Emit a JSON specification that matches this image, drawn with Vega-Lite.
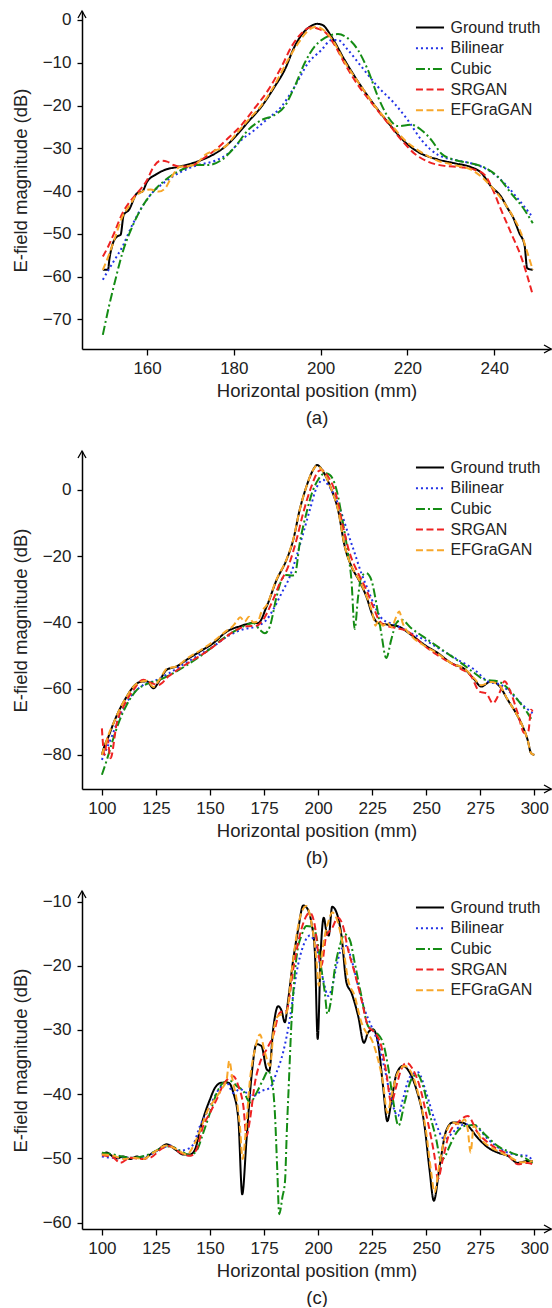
{
"$schema":"https://vega.github.io/schema/vega-lite/v6.json",
"padding":{"left":11,"top":8,"right":0,"bottom":0},
"background":"white",
"config":{
 "view":{"stroke":null},
 "font":"Liberation Sans",
 "axis":{"grid":false,"domainColor":"#000","domainWidth":1.5,"tickColor":"#000","tickWidth":1.3,"labelFontSize":17,"labelColor":"#222","titleFontSize":18.5,"titleFontWeight":"normal","titleColor":"#222","labelFont":"Liberation Sans","titleFont":"Liberation Sans","labelFlush":false,"labelOverlap":false},
 "axisX":{"tickSize":6,"labelPadding":5,"titlePadding":5,"titleLineHeight":27.5},
 "axisY":{"tickSize":5,"labelPadding":6,"titlePadding":12},
 "legend":{"orient":"none","legendX":337.5,"legendY":6,"title":null,"padding":0,"rowPadding":1.7,"labelFontSize":16,"labelFont":"Liberation Sans","labelColor":"#222","labelOffset":10,"symbolType":"M-1.5,0L1.5,0","symbolSize":350,"symbolStrokeWidth":2,"labelLimit":300}
},
"resolve":{"scale":{"x":"independent","y":"independent","color":"independent","strokeDash":"independent"},"legend":{"color":"independent","strokeDash":"independent"}},
"bounds":"flush",
"spacing":102,
"vconcat":[
{"width":469,"height":338,
 "layer":[
 {"data":{"values":[
{"m":"Ground truth","x":149.8,"y":-58.4},{"m":"Ground truth","x":151,"y":-58.4},{"m":"Ground truth","x":151.3,"y":-56},{"m":"Ground truth","x":152,"y":-52.6},{"m":"Ground truth","x":153.1,"y":-50.6},{"m":"Ground truth","x":153.9,"y":-50.2},{"m":"Ground truth","x":154.6,"y":-45.6},{"m":"Ground truth","x":155.8,"y":-44.4},{"m":"Ground truth","x":157.7,"y":-40.5},{"m":"Ground truth","x":158.9,"y":-40.1},{"m":"Ground truth","x":160,"y":-37.8},{"m":"Ground truth","x":161.9,"y":-36.2},{"m":"Ground truth","x":164.2,"y":-35},{"m":"Ground truth","x":167.3,"y":-34.3},{"m":"Ground truth","x":170.3,"y":-33.5},{"m":"Ground truth","x":172.6,"y":-32.7},{"m":"Ground truth","x":175.7,"y":-31.2},{"m":"Ground truth","x":178,"y":-29.6},{"m":"Ground truth","x":180.3,"y":-27.3},{"m":"Ground truth","x":183.3,"y":-23.8},{"m":"Ground truth","x":186.4,"y":-20.2},{"m":"Ground truth","x":189.4,"y":-15.6},{"m":"Ground truth","x":191.7,"y":-11.7},{"m":"Ground truth","x":194,"y":-6.2},{"m":"Ground truth","x":195.9,"y":-3.1},{"m":"Ground truth","x":197.8,"y":-1.4},{"m":"Ground truth","x":199.2,"y":-0.9},{"m":"Ground truth","x":200.5,"y":-1.2},{"m":"Ground truth","x":202.5,"y":-3.9},{"m":"Ground truth","x":205.5,"y":-9.3},{"m":"Ground truth","x":209.4,"y":-15.6},{"m":"Ground truth","x":213.2,"y":-21},{"m":"Ground truth","x":216.3,"y":-24.9},{"m":"Ground truth","x":219.3,"y":-28.4},{"m":"Ground truth","x":222.4,"y":-30.8},{"m":"Ground truth","x":227,"y":-32.6},{"m":"Ground truth","x":230.9,"y":-33.5},{"m":"Ground truth","x":234.7,"y":-34.4},{"m":"Ground truth","x":237,"y":-35.7},{"m":"Ground truth","x":239.3,"y":-38.9},{"m":"Ground truth","x":241.6,"y":-41.3},{"m":"Ground truth","x":243.1,"y":-44},{"m":"Ground truth","x":244.3,"y":-46},{"m":"Ground truth","x":245.8,"y":-49.8},{"m":"Ground truth","x":247,"y":-52.6},{"m":"Ground truth","x":247.6,"y":-58},{"m":"Ground truth","x":248.9,"y":-58.4},
{"m":"Bilinear","x":149.8,"y":-60.7},{"m":"Bilinear","x":152,"y":-56.9},{"m":"Bilinear","x":154.3,"y":-53},{"m":"Bilinear","x":156.6,"y":-47.9},{"m":"Bilinear","x":158.9,"y":-43.6},{"m":"Bilinear","x":161.1,"y":-40.5},{"m":"Bilinear","x":164.2,"y":-37.8},{"m":"Bilinear","x":168,"y":-35.4},{"m":"Bilinear","x":171.8,"y":-33.9},{"m":"Bilinear","x":175.7,"y":-32.9},{"m":"Bilinear","x":178.7,"y":-31.2},{"m":"Bilinear","x":181.8,"y":-28},{"m":"Bilinear","x":184.8,"y":-25.7},{"m":"Bilinear","x":187.9,"y":-23},{"m":"Bilinear","x":191,"y":-20.2},{"m":"Bilinear","x":194,"y":-15.6},{"m":"Bilinear","x":197.1,"y":-10.1},{"m":"Bilinear","x":200.2,"y":-7},{"m":"Bilinear","x":202.5,"y":-4.7},{"m":"Bilinear","x":204,"y":-4.7},{"m":"Bilinear","x":206.3,"y":-7},{"m":"Bilinear","x":209.4,"y":-10.9},{"m":"Bilinear","x":213.2,"y":-15.6},{"m":"Bilinear","x":217,"y":-19.5},{"m":"Bilinear","x":220.1,"y":-23.4},{"m":"Bilinear","x":223.2,"y":-28},{"m":"Bilinear","x":227,"y":-31.5},{"m":"Bilinear","x":230.9,"y":-32.7},{"m":"Bilinear","x":234.7,"y":-33.5},{"m":"Bilinear","x":238.5,"y":-35},{"m":"Bilinear","x":242.4,"y":-38.2},{"m":"Bilinear","x":245.4,"y":-41.7},{"m":"Bilinear","x":248.5,"y":-45.6},
{"m":"Cubic","x":149.8,"y":-73.6},{"m":"Cubic","x":151.2,"y":-67},{"m":"Cubic","x":152.7,"y":-60.7},{"m":"Cubic","x":154.3,"y":-54.5},{"m":"Cubic","x":156.6,"y":-48.3},{"m":"Cubic","x":158.9,"y":-43.6},{"m":"Cubic","x":161.1,"y":-40.5},{"m":"Cubic","x":164.2,"y":-37.4},{"m":"Cubic","x":168,"y":-35},{"m":"Cubic","x":171.1,"y":-33.9},{"m":"Cubic","x":174.1,"y":-33.9},{"m":"Cubic","x":177.2,"y":-32.7},{"m":"Cubic","x":180.3,"y":-29.6},{"m":"Cubic","x":183.3,"y":-25.7},{"m":"Cubic","x":186.4,"y":-23.4},{"m":"Cubic","x":189.4,"y":-22.2},{"m":"Cubic","x":191.7,"y":-20.2},{"m":"Cubic","x":194,"y":-15.6},{"m":"Cubic","x":196.3,"y":-10.1},{"m":"Cubic","x":198.6,"y":-6.2},{"m":"Cubic","x":200.2,"y":-4.7},{"m":"Cubic","x":202.5,"y":-3.5},{"m":"Cubic","x":204,"y":-3.3},{"m":"Cubic","x":206.3,"y":-4.3},{"m":"Cubic","x":208.6,"y":-7},{"m":"Cubic","x":210.9,"y":-11.7},{"m":"Cubic","x":213.2,"y":-17.9},{"m":"Cubic","x":215.5,"y":-22.6},{"m":"Cubic","x":217.8,"y":-24.8},{"m":"Cubic","x":220.9,"y":-24.5},{"m":"Cubic","x":223.2,"y":-25.7},{"m":"Cubic","x":225.5,"y":-28},{"m":"Cubic","x":227.8,"y":-31.2},{"m":"Cubic","x":230.9,"y":-32.7},{"m":"Cubic","x":234.7,"y":-33.5},{"m":"Cubic","x":237.8,"y":-34.5},{"m":"Cubic","x":240.8,"y":-36.6},{"m":"Cubic","x":243.9,"y":-40.5},{"m":"Cubic","x":247,"y":-44.4},{"m":"Cubic","x":248.9,"y":-47.5},
{"m":"SRGAN","x":149.8,"y":-55.3},{"m":"SRGAN","x":151.2,"y":-52.6},{"m":"SRGAN","x":152.7,"y":-49.1},{"m":"SRGAN","x":154.3,"y":-45.2},{"m":"SRGAN","x":155.8,"y":-42.8},{"m":"SRGAN","x":157.7,"y":-40.5},{"m":"SRGAN","x":160,"y":-37.4},{"m":"SRGAN","x":161.5,"y":-34.3},{"m":"SRGAN","x":163.1,"y":-32.9},{"m":"SRGAN","x":164.6,"y":-33.1},{"m":"SRGAN","x":166.1,"y":-33.9},{"m":"SRGAN","x":168,"y":-34.3},{"m":"SRGAN","x":170.3,"y":-34.1},{"m":"SRGAN","x":172.6,"y":-32.6},{"m":"SRGAN","x":175.7,"y":-30.4},{"m":"SRGAN","x":178.7,"y":-27.6},{"m":"SRGAN","x":181.8,"y":-24.5},{"m":"SRGAN","x":184.8,"y":-20.6},{"m":"SRGAN","x":187.9,"y":-16.4},{"m":"SRGAN","x":191,"y":-10.9},{"m":"SRGAN","x":193.3,"y":-6.2},{"m":"SRGAN","x":195.6,"y":-3.1},{"m":"SRGAN","x":197.8,"y":-1.7},{"m":"SRGAN","x":199.8,"y":-2.2},{"m":"SRGAN","x":201.3,"y":-3.1},{"m":"SRGAN","x":203.2,"y":-5.8},{"m":"SRGAN","x":205.5,"y":-10.1},{"m":"SRGAN","x":208.6,"y":-15.2},{"m":"SRGAN","x":212.4,"y":-20.2},{"m":"SRGAN","x":215.5,"y":-24.1},{"m":"SRGAN","x":218.6,"y":-28},{"m":"SRGAN","x":221.6,"y":-31.2},{"m":"SRGAN","x":224.7,"y":-33.1},{"m":"SRGAN","x":228.5,"y":-34.1},{"m":"SRGAN","x":232.4,"y":-34.4},{"m":"SRGAN","x":235.5,"y":-35},{"m":"SRGAN","x":237.8,"y":-36.2},{"m":"SRGAN","x":239.7,"y":-39.7},{"m":"SRGAN","x":241.6,"y":-44.4},{"m":"SRGAN","x":243.9,"y":-49.8},{"m":"SRGAN","x":246.2,"y":-55.3},{"m":"SRGAN","x":248.9,"y":-64.3},
{"m":"EFGraGAN","x":149.8,"y":-58.4},{"m":"EFGraGAN","x":151.2,"y":-54.9},{"m":"EFGraGAN","x":152.7,"y":-50.6},{"m":"EFGraGAN","x":154.3,"y":-46},{"m":"EFGraGAN","x":155.8,"y":-43.6},{"m":"EFGraGAN","x":157.3,"y":-41.3},{"m":"EFGraGAN","x":158.9,"y":-40.1},{"m":"EFGraGAN","x":160.8,"y":-39.6},{"m":"EFGraGAN","x":162.7,"y":-40.1},{"m":"EFGraGAN","x":164.2,"y":-39.3},{"m":"EFGraGAN","x":165.7,"y":-36.6},{"m":"EFGraGAN","x":167.6,"y":-34.3},{"m":"EFGraGAN","x":169.6,"y":-34.1},{"m":"EFGraGAN","x":171.5,"y":-33.5},{"m":"EFGraGAN","x":173.4,"y":-31.5},{"m":"EFGraGAN","x":175.7,"y":-30.5},{"m":"EFGraGAN","x":178,"y":-29.6},{"m":"EFGraGAN","x":180.3,"y":-26.9},{"m":"EFGraGAN","x":183.3,"y":-23.4},{"m":"EFGraGAN","x":186.4,"y":-19.9},{"m":"EFGraGAN","x":189.4,"y":-15.2},{"m":"EFGraGAN","x":192.5,"y":-9.3},{"m":"EFGraGAN","x":194.8,"y":-5.5},{"m":"EFGraGAN","x":197.1,"y":-2.5},{"m":"EFGraGAN","x":199,"y":-1.6},{"m":"EFGraGAN","x":200.2,"y":-2},{"m":"EFGraGAN","x":202.5,"y":-4.3},{"m":"EFGraGAN","x":205.5,"y":-9.7},{"m":"EFGraGAN","x":209.4,"y":-15.6},{"m":"EFGraGAN","x":213.2,"y":-21},{"m":"EFGraGAN","x":216.3,"y":-24.5},{"m":"EFGraGAN","x":219.3,"y":-28},{"m":"EFGraGAN","x":222.4,"y":-30.4},{"m":"EFGraGAN","x":227,"y":-32.9},{"m":"EFGraGAN","x":230.9,"y":-33.9},{"m":"EFGraGAN","x":234.7,"y":-35},{"m":"EFGraGAN","x":237,"y":-36.6},{"m":"EFGraGAN","x":239.3,"y":-38.9},{"m":"EFGraGAN","x":241.6,"y":-41.7},{"m":"EFGraGAN","x":243.9,"y":-45.2},{"m":"EFGraGAN","x":246.2,"y":-49.8},{"m":"EFGraGAN","x":247.7,"y":-54.5},{"m":"EFGraGAN","x":248.9,"y":-58.4}
 ]},
 "mark":{"type":"line","interpolate":"monotone","strokeWidth":2},
 "encoding":{
  "x":{"field":"x","type":"quantitative","scale":{"domain":[145,253.1],"nice":false,"zero":false},"axis":{"values":[160,180,200,220,240],"format":"d","title":["Horizontal position (mm)","(a)"]}},
  "y":{"field":"y","type":"quantitative","scale":{"domain":[-76.9,2.1],"nice":false,"zero":false},"axis":{"values":[-70,-60,-50,-40,-30,-20,-10,0],"format":"d","title":"E-field magnitude (dB)"}},
  "color":{"field":"m","type":"nominal","scale":{"domain":["Ground truth","Bilinear","Cubic","SRGAN","EFGraGAN"],"range":["#000000","#2233e6","#148c14","#ee2222","#f8a72a"]},"legend":{}},
  "strokeDash":{"field":"m","type":"nominal","scale":{"domain":["Ground truth","Bilinear","Cubic","SRGAN","EFGraGAN"],"range":[[1,0],[2,3],[9,3,2,3],[7,3.5],[7,3.5]]},"legend":{}}
 }},
 {"data":{"values":[{}]},"mark":{"type":"point","shape":"M-1.4,-0.8L0,0L-1.4,0.8","size":100,"filled":false,"color":"#000","strokeWidth":1.3,"opacity":1},
  "encoding":{"x":{"datum":253.1,"type":"quantitative"},"y":{"datum":-76.9,"type":"quantitative"}}},
 {"data":{"values":[{}]},"mark":{"type":"point","shape":"M-0.8,1.4L0,0L0.8,1.4","size":100,"filled":false,"color":"#000","strokeWidth":1.3,"opacity":1},
  "encoding":{"x":{"datum":145,"type":"quantitative"},"y":{"datum":2.1,"type":"quantitative"}}}
 ]},
{"width":469,"height":338,
 "layer":[
 {"data":{"values":[
{"m":"Ground truth","x":100,"y":-80},{"m":"Ground truth","x":101.1,"y":-77.5},{"m":"Ground truth","x":103.1,"y":-74.4},{"m":"Ground truth","x":105.4,"y":-70.4},{"m":"Ground truth","x":108.5,"y":-65.9},{"m":"Ground truth","x":111.5,"y":-62.4},{"m":"Ground truth","x":114.6,"y":-59.4},{"m":"Ground truth","x":117.7,"y":-58},{"m":"Ground truth","x":120.8,"y":-57.8},{"m":"Ground truth","x":123.8,"y":-59.9},{"m":"Ground truth","x":126.9,"y":-57.3},{"m":"Ground truth","x":130,"y":-54.3},{"m":"Ground truth","x":134.6,"y":-53.3},{"m":"Ground truth","x":139.2,"y":-51.3},{"m":"Ground truth","x":145.4,"y":-48.8},{"m":"Ground truth","x":151.5,"y":-46.3},{"m":"Ground truth","x":157.7,"y":-42.8},{"m":"Ground truth","x":163.8,"y":-41.2},{"m":"Ground truth","x":170,"y":-40.2},{"m":"Ground truth","x":172.3,"y":-40.2},{"m":"Ground truth","x":176.2,"y":-35.2},{"m":"Ground truth","x":180.8,"y":-27.2},{"m":"Ground truth","x":185.4,"y":-21.1},{"m":"Ground truth","x":188.5,"y":-15.1},{"m":"Ground truth","x":191.5,"y":-6},{"m":"Ground truth","x":194.6,"y":1},{"m":"Ground truth","x":197.7,"y":6},{"m":"Ground truth","x":199.5,"y":7.5},{"m":"Ground truth","x":202.3,"y":5.5},{"m":"Ground truth","x":206.2,"y":0},{"m":"Ground truth","x":209.2,"y":-6},{"m":"Ground truth","x":212.3,"y":-17.1},{"m":"Ground truth","x":215.4,"y":-23.1},{"m":"Ground truth","x":219.2,"y":-27.7},{"m":"Ground truth","x":222.3,"y":-32.2},{"m":"Ground truth","x":225.4,"y":-38.2},{"m":"Ground truth","x":227.7,"y":-40.2},{"m":"Ground truth","x":232.3,"y":-40.7},{"m":"Ground truth","x":236.9,"y":-41.2},{"m":"Ground truth","x":243.1,"y":-43.8},{"m":"Ground truth","x":249.2,"y":-46.8},{"m":"Ground truth","x":255.4,"y":-49.3},{"m":"Ground truth","x":261.5,"y":-52.3},{"m":"Ground truth","x":267.7,"y":-54.1},{"m":"Ground truth","x":272.3,"y":-57.3},{"m":"Ground truth","x":275.4,"y":-59.4},{"m":"Ground truth","x":280,"y":-57.8},{"m":"Ground truth","x":283.8,"y":-59.2},{"m":"Ground truth","x":287.7,"y":-63.4},{"m":"Ground truth","x":291.5,"y":-67.4},{"m":"Ground truth","x":294.6,"y":-71.4},{"m":"Ground truth","x":296.9,"y":-75.5},{"m":"Ground truth","x":298.5,"y":-79.5},{"m":"Ground truth","x":300,"y":-80},
{"m":"Bilinear","x":100,"y":-81.5},{"m":"Bilinear","x":102.3,"y":-78},{"m":"Bilinear","x":104.6,"y":-74.4},{"m":"Bilinear","x":106.9,"y":-70.4},{"m":"Bilinear","x":110,"y":-65.9},{"m":"Bilinear","x":114.6,"y":-61.4},{"m":"Bilinear","x":119.2,"y":-58.9},{"m":"Bilinear","x":123.8,"y":-57.8},{"m":"Bilinear","x":130,"y":-55.8},{"m":"Bilinear","x":136.2,"y":-53.3},{"m":"Bilinear","x":143.8,"y":-50.3},{"m":"Bilinear","x":151.5,"y":-47.3},{"m":"Bilinear","x":159.2,"y":-43.8},{"m":"Bilinear","x":165.4,"y":-42.1},{"m":"Bilinear","x":171.5,"y":-41.2},{"m":"Bilinear","x":176.2,"y":-39.2},{"m":"Bilinear","x":179.2,"y":-36.2},{"m":"Bilinear","x":183.1,"y":-31.2},{"m":"Bilinear","x":186.9,"y":-26.2},{"m":"Bilinear","x":190,"y":-20.1},{"m":"Bilinear","x":193.1,"y":-13.1},{"m":"Bilinear","x":196.2,"y":-6},{"m":"Bilinear","x":199.2,"y":0.5},{"m":"Bilinear","x":202.3,"y":3},{"m":"Bilinear","x":204.6,"y":1.5},{"m":"Bilinear","x":207.7,"y":-2},{"m":"Bilinear","x":210.8,"y":-7},{"m":"Bilinear","x":213.8,"y":-13.1},{"m":"Bilinear","x":216.9,"y":-19.1},{"m":"Bilinear","x":220,"y":-25.2},{"m":"Bilinear","x":223.1,"y":-30.2},{"m":"Bilinear","x":226.2,"y":-35.2},{"m":"Bilinear","x":230,"y":-39.2},{"m":"Bilinear","x":235.4,"y":-40.7},{"m":"Bilinear","x":241.5,"y":-42.8},{"m":"Bilinear","x":249.2,"y":-45.3},{"m":"Bilinear","x":256.9,"y":-48.3},{"m":"Bilinear","x":264.6,"y":-51.3},{"m":"Bilinear","x":272.3,"y":-54.3},{"m":"Bilinear","x":278.5,"y":-57.8},{"m":"Bilinear","x":284.6,"y":-58.9},{"m":"Bilinear","x":290.8,"y":-62.4},{"m":"Bilinear","x":296.2,"y":-65.9},{"m":"Bilinear","x":299.2,"y":-67.4},
{"m":"Cubic","x":100,"y":-86},{"m":"Cubic","x":102.3,"y":-81.5},{"m":"Cubic","x":104.6,"y":-76.5},{"m":"Cubic","x":107.7,"y":-70.4},{"m":"Cubic","x":111.5,"y":-64.9},{"m":"Cubic","x":116.2,"y":-60.4},{"m":"Cubic","x":120.8,"y":-58.6},{"m":"Cubic","x":126.9,"y":-57.3},{"m":"Cubic","x":133.1,"y":-55.3},{"m":"Cubic","x":140.8,"y":-52.3},{"m":"Cubic","x":148.5,"y":-48.8},{"m":"Cubic","x":156.2,"y":-44.8},{"m":"Cubic","x":163.8,"y":-41.8},{"m":"Cubic","x":170,"y":-40.2},{"m":"Cubic","x":173.1,"y":-42.3},{"m":"Cubic","x":175.4,"y":-43.3},{"m":"Cubic","x":177.7,"y":-41.2},{"m":"Cubic","x":180.8,"y":-32.2},{"m":"Cubic","x":183.1,"y":-27.2},{"m":"Cubic","x":185.4,"y":-25.7},{"m":"Cubic","x":187.7,"y":-25.9},{"m":"Cubic","x":189.2,"y":-25.7},{"m":"Cubic","x":191.5,"y":-16.1},{"m":"Cubic","x":194.6,"y":-7},{"m":"Cubic","x":197.7,"y":0},{"m":"Cubic","x":200,"y":3},{"m":"Cubic","x":203.1,"y":5},{"m":"Cubic","x":205.4,"y":4.5},{"m":"Cubic","x":208.5,"y":0},{"m":"Cubic","x":211.5,"y":-10.1},{"m":"Cubic","x":213.8,"y":-19.1},{"m":"Cubic","x":215.4,"y":-27.2},{"m":"Cubic","x":216.9,"y":-42},{"m":"Cubic","x":218.5,"y":-32.2},{"m":"Cubic","x":220,"y":-26.2},{"m":"Cubic","x":222.3,"y":-25.2},{"m":"Cubic","x":224.6,"y":-27.2},{"m":"Cubic","x":226.9,"y":-34.2},{"m":"Cubic","x":229.2,"y":-43.3},{"m":"Cubic","x":231.5,"y":-50.8},{"m":"Cubic","x":233.8,"y":-45.3},{"m":"Cubic","x":236.2,"y":-40.2},{"m":"Cubic","x":238.5,"y":-39.2},{"m":"Cubic","x":243.1,"y":-41.8},{"m":"Cubic","x":250.8,"y":-45.3},{"m":"Cubic","x":258.5,"y":-48.8},{"m":"Cubic","x":266.2,"y":-52.3},{"m":"Cubic","x":272.3,"y":-55.3},{"m":"Cubic","x":276.9,"y":-57.3},{"m":"Cubic","x":283.1,"y":-57.8},{"m":"Cubic","x":287.7,"y":-59.9},{"m":"Cubic","x":292.3,"y":-63.4},{"m":"Cubic","x":296.9,"y":-67.4},{"m":"Cubic","x":299.2,"y":-69.9},
{"m":"SRGAN","x":100,"y":-72},{"m":"SRGAN","x":101.2,"y":-80},{"m":"SRGAN","x":102.5,"y":-75},{"m":"SRGAN","x":104,"y":-81},{"m":"SRGAN","x":106.9,"y":-70.4},{"m":"SRGAN","x":110,"y":-65.4},{"m":"SRGAN","x":114.6,"y":-60.4},{"m":"SRGAN","x":119.2,"y":-57.3},{"m":"SRGAN","x":123.1,"y":-58.4},{"m":"SRGAN","x":126.2,"y":-58.9},{"m":"SRGAN","x":130.8,"y":-56.3},{"m":"SRGAN","x":136.2,"y":-53.8},{"m":"SRGAN","x":142.3,"y":-51.3},{"m":"SRGAN","x":148.5,"y":-48.8},{"m":"SRGAN","x":154.6,"y":-45.8},{"m":"SRGAN","x":160.8,"y":-42.8},{"m":"SRGAN","x":166.9,"y":-41.2},{"m":"SRGAN","x":171.5,"y":-41},{"m":"SRGAN","x":174.6,"y":-39.2},{"m":"SRGAN","x":178.5,"y":-34.2},{"m":"SRGAN","x":182.3,"y":-28.2},{"m":"SRGAN","x":186.2,"y":-23.1},{"m":"SRGAN","x":190,"y":-15.1},{"m":"SRGAN","x":193.1,"y":-7},{"m":"SRGAN","x":196.9,"y":1},{"m":"SRGAN","x":200,"y":5.5},{"m":"SRGAN","x":201.5,"y":6},{"m":"SRGAN","x":204.6,"y":4},{"m":"SRGAN","x":208.5,"y":-2},{"m":"SRGAN","x":211.5,"y":-11.1},{"m":"SRGAN","x":214.6,"y":-19.1},{"m":"SRGAN","x":218.5,"y":-25.2},{"m":"SRGAN","x":222.3,"y":-30.2},{"m":"SRGAN","x":225.4,"y":-35.2},{"m":"SRGAN","x":228.5,"y":-39.7},{"m":"SRGAN","x":232.3,"y":-41.2},{"m":"SRGAN","x":236.9,"y":-41.8},{"m":"SRGAN","x":241.5,"y":-42.8},{"m":"SRGAN","x":247.7,"y":-46.3},{"m":"SRGAN","x":253.8,"y":-49.3},{"m":"SRGAN","x":260,"y":-51.8},{"m":"SRGAN","x":266.2,"y":-54.1},{"m":"SRGAN","x":270.8,"y":-56.3},{"m":"SRGAN","x":274.6,"y":-60.9},{"m":"SRGAN","x":277.7,"y":-61.4},{"m":"SRGAN","x":280.8,"y":-64.4},{"m":"SRGAN","x":283.8,"y":-61.4},{"m":"SRGAN","x":286.2,"y":-57.8},{"m":"SRGAN","x":289.2,"y":-61.4},{"m":"SRGAN","x":292.3,"y":-67.4},{"m":"SRGAN","x":295.4,"y":-73.4},{"m":"SRGAN","x":297.2,"y":-72.9},{"m":"SRGAN","x":298.5,"y":-66.4},{"m":"SRGAN","x":299.2,"y":-66.9},
{"m":"EFGraGAN","x":100,"y":-80},{"m":"EFGraGAN","x":101.5,"y":-77},{"m":"EFGraGAN","x":103,"y":-74},{"m":"EFGraGAN","x":105.4,"y":-70.4},{"m":"EFGraGAN","x":108.5,"y":-65.9},{"m":"EFGraGAN","x":111.5,"y":-62.4},{"m":"EFGraGAN","x":114.6,"y":-59.4},{"m":"EFGraGAN","x":117.7,"y":-58},{"m":"EFGraGAN","x":120.8,"y":-57.6},{"m":"EFGraGAN","x":123.8,"y":-59.5},{"m":"EFGraGAN","x":126.9,"y":-57},{"m":"EFGraGAN","x":130,"y":-54},{"m":"EFGraGAN","x":134.6,"y":-53.3},{"m":"EFGraGAN","x":139.2,"y":-51},{"m":"EFGraGAN","x":145.4,"y":-48.5},{"m":"EFGraGAN","x":151.5,"y":-45.8},{"m":"EFGraGAN","x":157.7,"y":-42.5},{"m":"EFGraGAN","x":160,"y":-41.5},{"m":"EFGraGAN","x":162,"y":-40},{"m":"EFGraGAN","x":164,"y":-38.5},{"m":"EFGraGAN","x":166,"y":-39.8},{"m":"EFGraGAN","x":168,"y":-38.3},{"m":"EFGraGAN","x":170,"y":-40},{"m":"EFGraGAN","x":172,"y":-39.8},{"m":"EFGraGAN","x":174,"y":-36.5},{"m":"EFGraGAN","x":176,"y":-35},{"m":"EFGraGAN","x":180.8,"y":-27},{"m":"EFGraGAN","x":185.4,"y":-21},{"m":"EFGraGAN","x":188.5,"y":-15},{"m":"EFGraGAN","x":191.5,"y":-6},{"m":"EFGraGAN","x":194.6,"y":1},{"m":"EFGraGAN","x":197.7,"y":6},{"m":"EFGraGAN","x":199.5,"y":7.3},{"m":"EFGraGAN","x":202.3,"y":5.5},{"m":"EFGraGAN","x":206.2,"y":0},{"m":"EFGraGAN","x":209.2,"y":-6},{"m":"EFGraGAN","x":212.3,"y":-17},{"m":"EFGraGAN","x":215.4,"y":-23},{"m":"EFGraGAN","x":219.2,"y":-27.5},{"m":"EFGraGAN","x":222.3,"y":-32},{"m":"EFGraGAN","x":225.4,"y":-38},{"m":"EFGraGAN","x":226.5,"y":-41},{"m":"EFGraGAN","x":228,"y":-39.5},{"m":"EFGraGAN","x":230,"y":-41},{"m":"EFGraGAN","x":232,"y":-40},{"m":"EFGraGAN","x":234,"y":-41.5},{"m":"EFGraGAN","x":236,"y":-38.5},{"m":"EFGraGAN","x":237.5,"y":-36.7},{"m":"EFGraGAN","x":239,"y":-40},{"m":"EFGraGAN","x":243,"y":-44},{"m":"EFGraGAN","x":249,"y":-47},{"m":"EFGraGAN","x":255,"y":-49.3},{"m":"EFGraGAN","x":261.5,"y":-52.3},{"m":"EFGraGAN","x":267.7,"y":-54},{"m":"EFGraGAN","x":272.3,"y":-57},{"m":"EFGraGAN","x":275.4,"y":-59},{"m":"EFGraGAN","x":280,"y":-58},{"m":"EFGraGAN","x":283.8,"y":-59},{"m":"EFGraGAN","x":287.7,"y":-63.4},{"m":"EFGraGAN","x":291.5,"y":-67.4},{"m":"EFGraGAN","x":294.6,"y":-71.4},{"m":"EFGraGAN","x":296.9,"y":-75.5},{"m":"EFGraGAN","x":298.5,"y":-79.5},{"m":"EFGraGAN","x":300,"y":-80}
 ]},
 "mark":{"type":"line","interpolate":"monotone","strokeWidth":2},
 "encoding":{
  "x":{"field":"x","type":"quantitative","scale":{"domain":[90.8,307.7],"nice":false,"zero":false},"axis":{"values":[100,125,150,175,200,225,250,275,300],"format":"d","title":["Horizontal position (mm)","(b)"]}},
  "y":{"field":"y","type":"quantitative","scale":{"domain":[-90.3,11.7],"nice":false,"zero":false},"axis":{"values":[-80,-60,-40,-20,0],"format":"d","title":"E-field magnitude (dB)"}},
  "color":{"field":"m","type":"nominal","scale":{"domain":["Ground truth","Bilinear","Cubic","SRGAN","EFGraGAN"],"range":["#000000","#2233e6","#148c14","#ee2222","#f8a72a"]},"legend":{}},
  "strokeDash":{"field":"m","type":"nominal","scale":{"domain":["Ground truth","Bilinear","Cubic","SRGAN","EFGraGAN"],"range":[[1,0],[2,3],[9,3,2,3],[7,3.5],[7,3.5]]},"legend":{}}
 }},
 {"data":{"values":[{}]},"mark":{"type":"point","shape":"M-1.4,-0.8L0,0L-1.4,0.8","size":100,"filled":false,"color":"#000","strokeWidth":1.3,"opacity":1},
  "encoding":{"x":{"datum":307.7,"type":"quantitative"},"y":{"datum":-90.3,"type":"quantitative"}}},
 {"data":{"values":[{}]},"mark":{"type":"point","shape":"M-0.8,1.4L0,0L0.8,1.4","size":100,"filled":false,"color":"#000","strokeWidth":1.3,"opacity":1},
  "encoding":{"x":{"datum":90.8,"type":"quantitative"},"y":{"datum":11.7,"type":"quantitative"}}}
 ]},
{"width":469,"height":338,
 "layer":[
 {"data":{"values":[
{"m":"Ground truth","x":100,"y":-49.4},{"m":"Ground truth","x":102.3,"y":-49.1},{"m":"Ground truth","x":104.6,"y":-49.6},{"m":"Ground truth","x":106.9,"y":-50},{"m":"Ground truth","x":110,"y":-49.7},{"m":"Ground truth","x":113.1,"y":-50.1},{"m":"Ground truth","x":116.2,"y":-49.7},{"m":"Ground truth","x":119.2,"y":-50.1},{"m":"Ground truth","x":122.3,"y":-49.4},{"m":"Ground truth","x":126.2,"y":-48.6},{"m":"Ground truth","x":130,"y":-47.8},{"m":"Ground truth","x":133.8,"y":-48.6},{"m":"Ground truth","x":137.7,"y":-49.4},{"m":"Ground truth","x":140.8,"y":-49.4},{"m":"Ground truth","x":143.1,"y":-48.6},{"m":"Ground truth","x":145.4,"y":-45.5},{"m":"Ground truth","x":147.7,"y":-42.9},{"m":"Ground truth","x":150,"y":-40.8},{"m":"Ground truth","x":152.3,"y":-39},{"m":"Ground truth","x":155.4,"y":-38.2},{"m":"Ground truth","x":158.5,"y":-38.2},{"m":"Ground truth","x":160.8,"y":-39.8},{"m":"Ground truth","x":163.1,"y":-43.9},{"m":"Ground truth","x":164.9,"y":-55.6},{"m":"Ground truth","x":166.9,"y":-47},{"m":"Ground truth","x":169.2,"y":-37.2},{"m":"Ground truth","x":171.5,"y":-32.2},{"m":"Ground truth","x":173.8,"y":-32.5},{"m":"Ground truth","x":176.2,"y":-36.1},{"m":"Ground truth","x":177.4,"y":-36.4},{"m":"Ground truth","x":179.2,"y":-29.9},{"m":"Ground truth","x":181.5,"y":-26.3},{"m":"Ground truth","x":183.1,"y":-27},{"m":"Ground truth","x":184.6,"y":-28.8},{"m":"Ground truth","x":186.2,"y":-25.2},{"m":"Ground truth","x":188.5,"y":-19},{"m":"Ground truth","x":190.8,"y":-14.3},{"m":"Ground truth","x":193.1,"y":-10.6},{"m":"Ground truth","x":194.6,"y":-10.9},{"m":"Ground truth","x":196.9,"y":-13.3},{"m":"Ground truth","x":198.5,"y":-17.9},{"m":"Ground truth","x":199.8,"y":-31.4},{"m":"Ground truth","x":201.2,"y":-17.9},{"m":"Ground truth","x":202.6,"y":-12.5},{"m":"Ground truth","x":203.8,"y":-14.6},{"m":"Ground truth","x":204.9,"y":-15.3},{"m":"Ground truth","x":206.5,"y":-10.8},{"m":"Ground truth","x":208.5,"y":-11.7},{"m":"Ground truth","x":210.8,"y":-15.3},{"m":"Ground truth","x":213.1,"y":-22.6},{"m":"Ground truth","x":215.4,"y":-24.2},{"m":"Ground truth","x":218.5,"y":-27.8},{"m":"Ground truth","x":221.2,"y":-32},{"m":"Ground truth","x":223.1,"y":-30.4},{"m":"Ground truth","x":225.4,"y":-29.9},{"m":"Ground truth","x":227.7,"y":-32},{"m":"Ground truth","x":230,"y":-38.7},{"m":"Ground truth","x":232,"y":-44.2},{"m":"Ground truth","x":233.8,"y":-41.3},{"m":"Ground truth","x":236.2,"y":-36.9},{"m":"Ground truth","x":239.2,"y":-35.6},{"m":"Ground truth","x":242.3,"y":-36.6},{"m":"Ground truth","x":245.4,"y":-39.2},{"m":"Ground truth","x":249.2,"y":-44.9},{"m":"Ground truth","x":251.5,"y":-51.7},{"m":"Ground truth","x":253.5,"y":-56.6},{"m":"Ground truth","x":256.2,"y":-51.2},{"m":"Ground truth","x":259.2,"y":-45.7},{"m":"Ground truth","x":262.3,"y":-44.4},{"m":"Ground truth","x":266.2,"y":-44.4},{"m":"Ground truth","x":269.2,"y":-44.9},{"m":"Ground truth","x":273.8,"y":-46.8},{"m":"Ground truth","x":278.5,"y":-48.3},{"m":"Ground truth","x":283.1,"y":-49.1},{"m":"Ground truth","x":287.7,"y":-49.6},{"m":"Ground truth","x":292.3,"y":-50.7},{"m":"Ground truth","x":296.9,"y":-50.4},{"m":"Ground truth","x":299.2,"y":-50.4},
{"m":"Bilinear","x":100,"y":-49.7},{"m":"Bilinear","x":105.4,"y":-49.9},{"m":"Bilinear","x":113.1,"y":-49.9},{"m":"Bilinear","x":120.8,"y":-49.6},{"m":"Bilinear","x":128.5,"y":-48.3},{"m":"Bilinear","x":131.5,"y":-48},{"m":"Bilinear","x":136.2,"y":-48.8},{"m":"Bilinear","x":139.2,"y":-48.6},{"m":"Bilinear","x":142.3,"y":-47.8},{"m":"Bilinear","x":145.4,"y":-44.9},{"m":"Bilinear","x":148.5,"y":-42.9},{"m":"Bilinear","x":151.5,"y":-40.8},{"m":"Bilinear","x":154.6,"y":-39},{"m":"Bilinear","x":157.7,"y":-38.2},{"m":"Bilinear","x":160.8,"y":-39.8},{"m":"Bilinear","x":163.8,"y":-39.2},{"m":"Bilinear","x":166.9,"y":-39.8},{"m":"Bilinear","x":170,"y":-40.3},{"m":"Bilinear","x":173.8,"y":-39.5},{"m":"Bilinear","x":177.7,"y":-39},{"m":"Bilinear","x":180.8,"y":-36.6},{"m":"Bilinear","x":183.8,"y":-33.5},{"m":"Bilinear","x":186.9,"y":-28.3},{"m":"Bilinear","x":190,"y":-21.1},{"m":"Bilinear","x":193.1,"y":-16.9},{"m":"Bilinear","x":196.2,"y":-15.3},{"m":"Bilinear","x":199.2,"y":-17.2},{"m":"Bilinear","x":202.3,"y":-22.1},{"m":"Bilinear","x":204.6,"y":-24.7},{"m":"Bilinear","x":206.2,"y":-23.7},{"m":"Bilinear","x":208.5,"y":-20},{"m":"Bilinear","x":210.8,"y":-17.4},{"m":"Bilinear","x":213.1,"y":-16.9},{"m":"Bilinear","x":215.4,"y":-19},{"m":"Bilinear","x":218.5,"y":-23.1},{"m":"Bilinear","x":221.5,"y":-26.8},{"m":"Bilinear","x":224.6,"y":-29.4},{"m":"Bilinear","x":227.7,"y":-32},{"m":"Bilinear","x":230.8,"y":-36.1},{"m":"Bilinear","x":233.8,"y":-40.8},{"m":"Bilinear","x":236.9,"y":-43.4},{"m":"Bilinear","x":239.2,"y":-40.8},{"m":"Bilinear","x":242.3,"y":-37.4},{"m":"Bilinear","x":246.2,"y":-36.6},{"m":"Bilinear","x":250,"y":-39.8},{"m":"Bilinear","x":253.8,"y":-43.9},{"m":"Bilinear","x":258.5,"y":-47},{"m":"Bilinear","x":263.1,"y":-45.7},{"m":"Bilinear","x":267.7,"y":-44.7},{"m":"Bilinear","x":272.3,"y":-44.9},{"m":"Bilinear","x":278.5,"y":-47},{"m":"Bilinear","x":284.6,"y":-48.6},{"m":"Bilinear","x":290.8,"y":-49.4},{"m":"Bilinear","x":296.9,"y":-49.6},{"m":"Bilinear","x":299.2,"y":-50.4},
{"m":"Cubic","x":100,"y":-49.1},{"m":"Cubic","x":105.4,"y":-49.4},{"m":"Cubic","x":113.1,"y":-49.9},{"m":"Cubic","x":120.8,"y":-49.5},{"m":"Cubic","x":128.5,"y":-48.3},{"m":"Cubic","x":131.5,"y":-48.1},{"m":"Cubic","x":136.2,"y":-48.8},{"m":"Cubic","x":140.8,"y":-49.5},{"m":"Cubic","x":143.8,"y":-48.8},{"m":"Cubic","x":146.9,"y":-46},{"m":"Cubic","x":150,"y":-42.9},{"m":"Cubic","x":153.1,"y":-39.8},{"m":"Cubic","x":156.2,"y":-38.2},{"m":"Cubic","x":159.2,"y":-37.9},{"m":"Cubic","x":162.3,"y":-38.7},{"m":"Cubic","x":165.4,"y":-39.5},{"m":"Cubic","x":168.5,"y":-41.3},{"m":"Cubic","x":171.5,"y":-39.8},{"m":"Cubic","x":174.6,"y":-37.7},{"m":"Cubic","x":176.9,"y":-36.4},{"m":"Cubic","x":178.5,"y":-37.7},{"m":"Cubic","x":180,"y":-42.9},{"m":"Cubic","x":181.1,"y":-51.7},{"m":"Cubic","x":182,"y":-58.7},{"m":"Cubic","x":183.5,"y":-56},{"m":"Cubic","x":184.7,"y":-53.5},{"m":"Cubic","x":185.5,"y":-46},{"m":"Cubic","x":186.5,"y":-38},{"m":"Cubic","x":187.5,"y":-30},{"m":"Cubic","x":189,"y":-22},{"m":"Cubic","x":190.5,"y":-17.5},{"m":"Cubic","x":192.3,"y":-15.3},{"m":"Cubic","x":194.6,"y":-13.8},{"m":"Cubic","x":197.7,"y":-14},{"m":"Cubic","x":200,"y":-16.9},{"m":"Cubic","x":201.5,"y":-20.5},{"m":"Cubic","x":203.1,"y":-24.2},{"m":"Cubic","x":204.3,"y":-27.5},{"m":"Cubic","x":205.8,"y":-25.7},{"m":"Cubic","x":207.7,"y":-20.5},{"m":"Cubic","x":210,"y":-16.9},{"m":"Cubic","x":212.3,"y":-15.1},{"m":"Cubic","x":214.6,"y":-15.9},{"m":"Cubic","x":216.9,"y":-19.5},{"m":"Cubic","x":220,"y":-24.7},{"m":"Cubic","x":223.1,"y":-29.4},{"m":"Cubic","x":226.9,"y":-30.4},{"m":"Cubic","x":230,"y":-32},{"m":"Cubic","x":232.3,"y":-35.6},{"m":"Cubic","x":234.6,"y":-40.8},{"m":"Cubic","x":237.2,"y":-44.9},{"m":"Cubic","x":240,"y":-41.3},{"m":"Cubic","x":243.1,"y":-37.7},{"m":"Cubic","x":245.8,"y":-36.9},{"m":"Cubic","x":248.5,"y":-38.7},{"m":"Cubic","x":251.5,"y":-42.9},{"m":"Cubic","x":254.6,"y":-47},{"m":"Cubic","x":256.8,"y":-50.3},{"m":"Cubic","x":259,"y":-49.5},{"m":"Cubic","x":260.8,"y":-48.1},{"m":"Cubic","x":264.6,"y":-45.7},{"m":"Cubic","x":268.5,"y":-44.9},{"m":"Cubic","x":272.3,"y":-44.8},{"m":"Cubic","x":276.9,"y":-46.2},{"m":"Cubic","x":283.1,"y":-48.1},{"m":"Cubic","x":289.2,"y":-49.1},{"m":"Cubic","x":295.4,"y":-49.9},{"m":"Cubic","x":299.2,"y":-50.7},
{"m":"SRGAN","x":100,"y":-49.5},{"m":"SRGAN","x":105.4,"y":-49.9},{"m":"SRGAN","x":108.5,"y":-50.7},{"m":"SRGAN","x":113.1,"y":-49.9},{"m":"SRGAN","x":117.7,"y":-50.1},{"m":"SRGAN","x":122.3,"y":-49.9},{"m":"SRGAN","x":128.5,"y":-48.3},{"m":"SRGAN","x":131.5,"y":-48.1},{"m":"SRGAN","x":136.2,"y":-49.1},{"m":"SRGAN","x":140.8,"y":-49.6},{"m":"SRGAN","x":143.8,"y":-48.6},{"m":"SRGAN","x":146.9,"y":-44.9},{"m":"SRGAN","x":150,"y":-42.9},{"m":"SRGAN","x":153.1,"y":-40.8},{"m":"SRGAN","x":156.2,"y":-38.5},{"m":"SRGAN","x":160.8,"y":-37.2},{"m":"SRGAN","x":163.1,"y":-38.7},{"m":"SRGAN","x":165.4,"y":-41.8},{"m":"SRGAN","x":166.9,"y":-46.5},{"m":"SRGAN","x":168.5,"y":-43.9},{"m":"SRGAN","x":170.8,"y":-38.2},{"m":"SRGAN","x":173.1,"y":-35.1},{"m":"SRGAN","x":176.2,"y":-33},{"m":"SRGAN","x":179.2,"y":-30.9},{"m":"SRGAN","x":182.3,"y":-27.3},{"m":"SRGAN","x":185.4,"y":-27},{"m":"SRGAN","x":188.5,"y":-20.5},{"m":"SRGAN","x":191.5,"y":-15.3},{"m":"SRGAN","x":194.6,"y":-12.2},{"m":"SRGAN","x":196.2,"y":-11.7},{"m":"SRGAN","x":198.5,"y":-13.8},{"m":"SRGAN","x":200,"y":-17.9},{"m":"SRGAN","x":201.5,"y":-20},{"m":"SRGAN","x":203.8,"y":-15.3},{"m":"SRGAN","x":206.2,"y":-14.3},{"m":"SRGAN","x":209.2,"y":-12.5},{"m":"SRGAN","x":211.5,"y":-13.8},{"m":"SRGAN","x":213.8,"y":-17.4},{"m":"SRGAN","x":216.9,"y":-21.1},{"m":"SRGAN","x":220,"y":-25.2},{"m":"SRGAN","x":223.1,"y":-29.4},{"m":"SRGAN","x":226.2,"y":-30.4},{"m":"SRGAN","x":229.2,"y":-32.5},{"m":"SRGAN","x":231.5,"y":-36.6},{"m":"SRGAN","x":233.8,"y":-41.3},{"m":"SRGAN","x":236.2,"y":-38.7},{"m":"SRGAN","x":238.5,"y":-36.1},{"m":"SRGAN","x":240.8,"y":-35.1},{"m":"SRGAN","x":243.8,"y":-36.1},{"m":"SRGAN","x":246.9,"y":-38.7},{"m":"SRGAN","x":250.8,"y":-44.4},{"m":"SRGAN","x":253.8,"y":-49.6},{"m":"SRGAN","x":255.4,"y":-53.2},{"m":"SRGAN","x":257.7,"y":-50.1},{"m":"SRGAN","x":260.8,"y":-46},{"m":"SRGAN","x":264.6,"y":-44.4},{"m":"SRGAN","x":269.2,"y":-43.4},{"m":"SRGAN","x":273.8,"y":-46},{"m":"SRGAN","x":278.5,"y":-47.5},{"m":"SRGAN","x":283.1,"y":-48.6},{"m":"SRGAN","x":287.7,"y":-49.4},{"m":"SRGAN","x":292.3,"y":-50.9},{"m":"SRGAN","x":296.9,"y":-50.7},{"m":"SRGAN","x":299.2,"y":-50.9},
{"m":"EFGraGAN","x":100,"y":-49.4},{"m":"EFGraGAN","x":105.4,"y":-49.6},{"m":"EFGraGAN","x":110,"y":-50.1},{"m":"EFGraGAN","x":114.6,"y":-49.9},{"m":"EFGraGAN","x":119.2,"y":-50.1},{"m":"EFGraGAN","x":123.8,"y":-49.1},{"m":"EFGraGAN","x":130,"y":-48},{"m":"EFGraGAN","x":134.6,"y":-48.6},{"m":"EFGraGAN","x":139.2,"y":-49.4},{"m":"EFGraGAN","x":143.1,"y":-47.5},{"m":"EFGraGAN","x":146.2,"y":-44.9},{"m":"EFGraGAN","x":149.2,"y":-42.3},{"m":"EFGraGAN","x":152.3,"y":-40.8},{"m":"EFGraGAN","x":155.4,"y":-39.2},{"m":"EFGraGAN","x":157.7,"y":-37.7},{"m":"EFGraGAN","x":158.9,"y":-34.8},{"m":"EFGraGAN","x":160.5,"y":-37.9},{"m":"EFGraGAN","x":162.3,"y":-40.8},{"m":"EFGraGAN","x":163.8,"y":-44.9},{"m":"EFGraGAN","x":165.1,"y":-50.1},{"m":"EFGraGAN","x":166.5,"y":-45.9},{"m":"EFGraGAN","x":168.5,"y":-37.7},{"m":"EFGraGAN","x":170.8,"y":-33},{"m":"EFGraGAN","x":173.1,"y":-30.7},{"m":"EFGraGAN","x":175.4,"y":-33.5},{"m":"EFGraGAN","x":177.7,"y":-35.6},{"m":"EFGraGAN","x":179.5,"y":-29.9},{"m":"EFGraGAN","x":181.5,"y":-27.8},{"m":"EFGraGAN","x":183.8,"y":-27.5},{"m":"EFGraGAN","x":185.4,"y":-27.3},{"m":"EFGraGAN","x":187.7,"y":-21.1},{"m":"EFGraGAN","x":190,"y":-15.3},{"m":"EFGraGAN","x":192.3,"y":-11.7},{"m":"EFGraGAN","x":194.6,"y":-10.7},{"m":"EFGraGAN","x":196.9,"y":-13.3},{"m":"EFGraGAN","x":199.2,"y":-19},{"m":"EFGraGAN","x":200.3,"y":-23.1},{"m":"EFGraGAN","x":201.5,"y":-19},{"m":"EFGraGAN","x":203.1,"y":-15.3},{"m":"EFGraGAN","x":204.6,"y":-13.3},{"m":"EFGraGAN","x":206.5,"y":-11.7},{"m":"EFGraGAN","x":209.2,"y":-13.3},{"m":"EFGraGAN","x":211.5,"y":-16.9},{"m":"EFGraGAN","x":213.8,"y":-22.1},{"m":"EFGraGAN","x":216.9,"y":-24.7},{"m":"EFGraGAN","x":220,"y":-28.8},{"m":"EFGraGAN","x":222.3,"y":-30.4},{"m":"EFGraGAN","x":224.6,"y":-31.4},{"m":"EFGraGAN","x":227.7,"y":-34.6},{"m":"EFGraGAN","x":230,"y":-38.2},{"m":"EFGraGAN","x":232,"y":-42.9},{"m":"EFGraGAN","x":234.2,"y":-39.8},{"m":"EFGraGAN","x":236.9,"y":-36.6},{"m":"EFGraGAN","x":240,"y":-35.6},{"m":"EFGraGAN","x":243.1,"y":-36.6},{"m":"EFGraGAN","x":246.2,"y":-39.8},{"m":"EFGraGAN","x":250,"y":-46},{"m":"EFGraGAN","x":252.3,"y":-52.2},{"m":"EFGraGAN","x":253.8,"y":-55.3},{"m":"EFGraGAN","x":256.2,"y":-50.7},{"m":"EFGraGAN","x":259.2,"y":-46},{"m":"EFGraGAN","x":262.3,"y":-44.4},{"m":"EFGraGAN","x":265.4,"y":-44.7},{"m":"EFGraGAN","x":267.7,"y":-43.9},{"m":"EFGraGAN","x":269.2,"y":-45.5},{"m":"EFGraGAN","x":270.5,"y":-49.1},{"m":"EFGraGAN","x":272,"y":-44.9},{"m":"EFGraGAN","x":275.4,"y":-47},{"m":"EFGraGAN","x":280,"y":-48.3},{"m":"EFGraGAN","x":284.6,"y":-49.1},{"m":"EFGraGAN","x":289.2,"y":-49.9},{"m":"EFGraGAN","x":293.8,"y":-50.6},{"m":"EFGraGAN","x":299.2,"y":-50.4}
 ]},
 "mark":{"type":"line","interpolate":"monotone","strokeWidth":2},
 "encoding":{
  "x":{"field":"x","type":"quantitative","scale":{"domain":[90.8,307.7],"nice":false,"zero":false},"axis":{"values":[100,125,150,175,200,225,250,275,300],"format":"d","title":["Horizontal position (mm)","(c)"]}},
  "y":{"field":"y","type":"quantitative","scale":{"domain":[-61,-8.35],"nice":false,"zero":false},"axis":{"values":[-60,-50,-40,-30,-20,-10],"format":"d","title":"E-field magnitude (dB)"}},
  "color":{"field":"m","type":"nominal","scale":{"domain":["Ground truth","Bilinear","Cubic","SRGAN","EFGraGAN"],"range":["#000000","#2233e6","#148c14","#ee2222","#f8a72a"]},"legend":{}},
  "strokeDash":{"field":"m","type":"nominal","scale":{"domain":["Ground truth","Bilinear","Cubic","SRGAN","EFGraGAN"],"range":[[1,0],[2,3],[9,3,2,3],[7,3.5],[7,3.5]]},"legend":{}}
 }},
 {"data":{"values":[{}]},"mark":{"type":"point","shape":"M-1.4,-0.8L0,0L-1.4,0.8","size":100,"filled":false,"color":"#000","strokeWidth":1.3,"opacity":1},
  "encoding":{"x":{"datum":307.7,"type":"quantitative"},"y":{"datum":-61,"type":"quantitative"}}},
 {"data":{"values":[{}]},"mark":{"type":"point","shape":"M-0.8,1.4L0,0L0.8,1.4","size":100,"filled":false,"color":"#000","strokeWidth":1.3,"opacity":1},
  "encoding":{"x":{"datum":90.8,"type":"quantitative"},"y":{"datum":-8.35,"type":"quantitative"}}}
 ]}
]
}
